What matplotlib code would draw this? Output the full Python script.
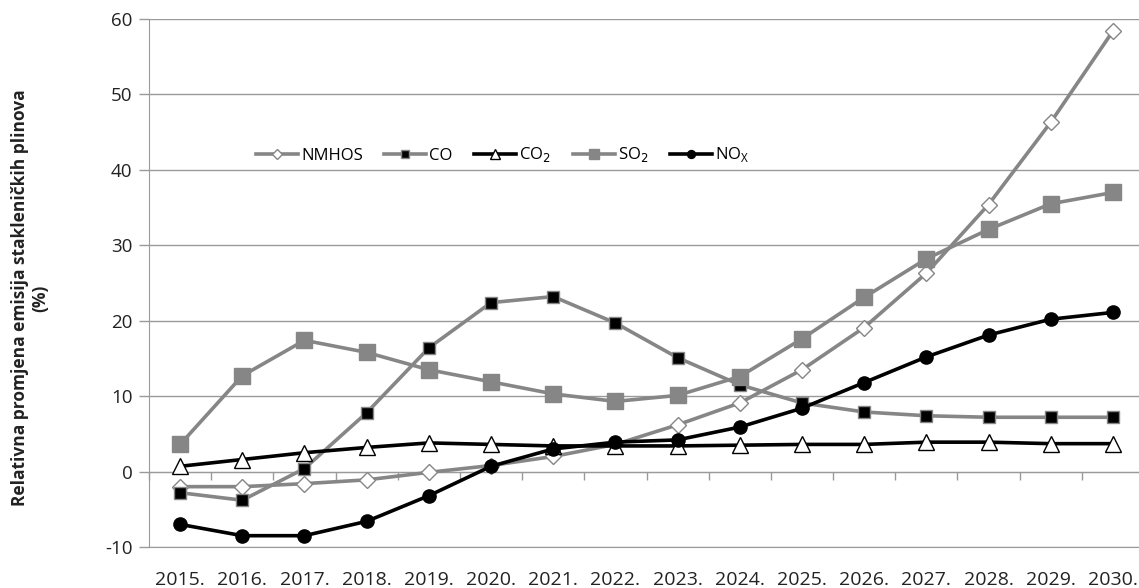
import matplotlib
matplotlib.use("Agg")
import matplotlib.pyplot as plt
import numpy as np

years = ["2015.", "2016.", "2017.", "2018.", "2019.", "2020.", "2021.", "2022.",
         "2023.", "2024.", "2025.", "2026.", "2027.", "2028.", "2029.", "2030."]

nmhos = [-2.0, -2.0, -1.6, -1.1, -0.1, 0.8, 2.0, 3.6, 6.2, 9.1, 13.5, 19.1, 26.3, 35.4, 46.3, 58.4]
co = [-2.8, -3.8, 0.4, 7.8, 16.4, 22.4, 23.2, 19.7, 15.1, 11.5, 9.1, 7.9, 7.4, 7.2, 7.2, 7.2]
co2 = [0.7, 1.6, 2.5, 3.2, 3.8, 3.6, 3.4, 3.4, 3.4, 3.5, 3.6, 3.6, 3.9, 3.9, 3.7, 3.7]
so2 = [3.6, 12.7, 17.4, 15.8, 13.5, 11.9, 10.3, 9.3, 10.1, 12.6, 17.6, 23.1, 28.2, 32.1, 35.5, 37.0]
nox = [-7.0, -8.5, -8.5, -6.6, -3.2, 0.7, 3.0, 3.9, 4.2, 5.9, 8.4, 11.8, 15.2, 18.1, 20.2, 21.1]

plt.rcParams["font.family"] = ["Open Sans", "DejaVu Sans"]
plt.rcParams["axes.unicode_minus"] = False

GRAY = "#868686"
GRID = "#9a9a9a"
DARK = "#222222"

fig = plt.figure(figsize=(11.39, 5.88), dpi=100)
ax = fig.add_axes([149 / 1139, 1 - 547 / 588, 995 / 1139, 528 / 588])

x = np.arange(len(years))
lw = 2.6
ax.plot(x, nmhos, "-", color=GRAY, lw=lw, marker="D", ms=8.5, mfc="white", mec=GRAY, mew=1.0, label="NMHOS", zorder=3)
ax.plot(x, co, "-", color=GRAY, lw=lw, marker="s", ms=9, mfc="black", mec=GRAY, mew=1.0, label="CO", zorder=3)
ax.plot(x, co2, "-", color="black", lw=lw, marker="^", ms=11, mfc="white", mec="black", mew=1.0, label="CO$_2$", zorder=3)
ax.plot(x, so2, "-", color=GRAY, lw=lw, marker="s", ms=11.5, mfc=GRAY, mec=GRAY, label="SO$_2$", zorder=3)
ax.plot(x, nox, "-", color="black", lw=lw, marker="o", ms=9.5, mfc="black", mec="black", label="NO$_\\mathregular{X}$", zorder=4)

ax.set_xlim(-0.5, len(years) - 0.5)
ax.set_ylim(-10, 60)
ax.set_yticks(np.arange(-10, 61, 10))
ax.yaxis.grid(True, color=GRID, lw=1.0)
ax.set_axisbelow(True)

for side in ["top", "right"]:
    ax.spines[side].set_visible(False)
ax.spines["left"].set_color(GRID)
ax.spines["bottom"].set_color(GRID)
ax.tick_params(axis="y", colors=GRID, length=7, width=1.0, labelcolor=DARK, labelsize=13.5, pad=5)
ax.set_xticks(x)
ax.set_xticklabels(years)
ax.tick_params(axis="x", length=0, labelcolor=DARK, labelsize=14, pad=17)

# category axis line crossing at y = 0, ticks between categories
sec = ax.secondary_xaxis(10 / 70)
sec.spines["bottom"].set_color(GRID)
sec.set_xticks(np.arange(-0.5, len(years), 1.0))
sec.set_xticklabels([])
sec.tick_params(axis="x", colors=GRID, length=6, width=1.0, direction="out")

fig.text(30 / 1139, 1 - 298 / 588, "Relativna promjena emisija stakleničkih plinova\n(%)",
         rotation=90, ha="center", va="center", fontsize=12.5, fontweight="bold", color=DARK,
         linespacing=1.15)

ax.legend(loc="center left", bbox_to_anchor=(92 / 995, 1 - (155 - 19) / 528), ncol=5, frameon=False,
          fontsize=12, handlelength=2.5, handletextpad=0.2, columnspacing=1.3, markerscale=0.6)

fig.savefig("out.png", dpi=100)
